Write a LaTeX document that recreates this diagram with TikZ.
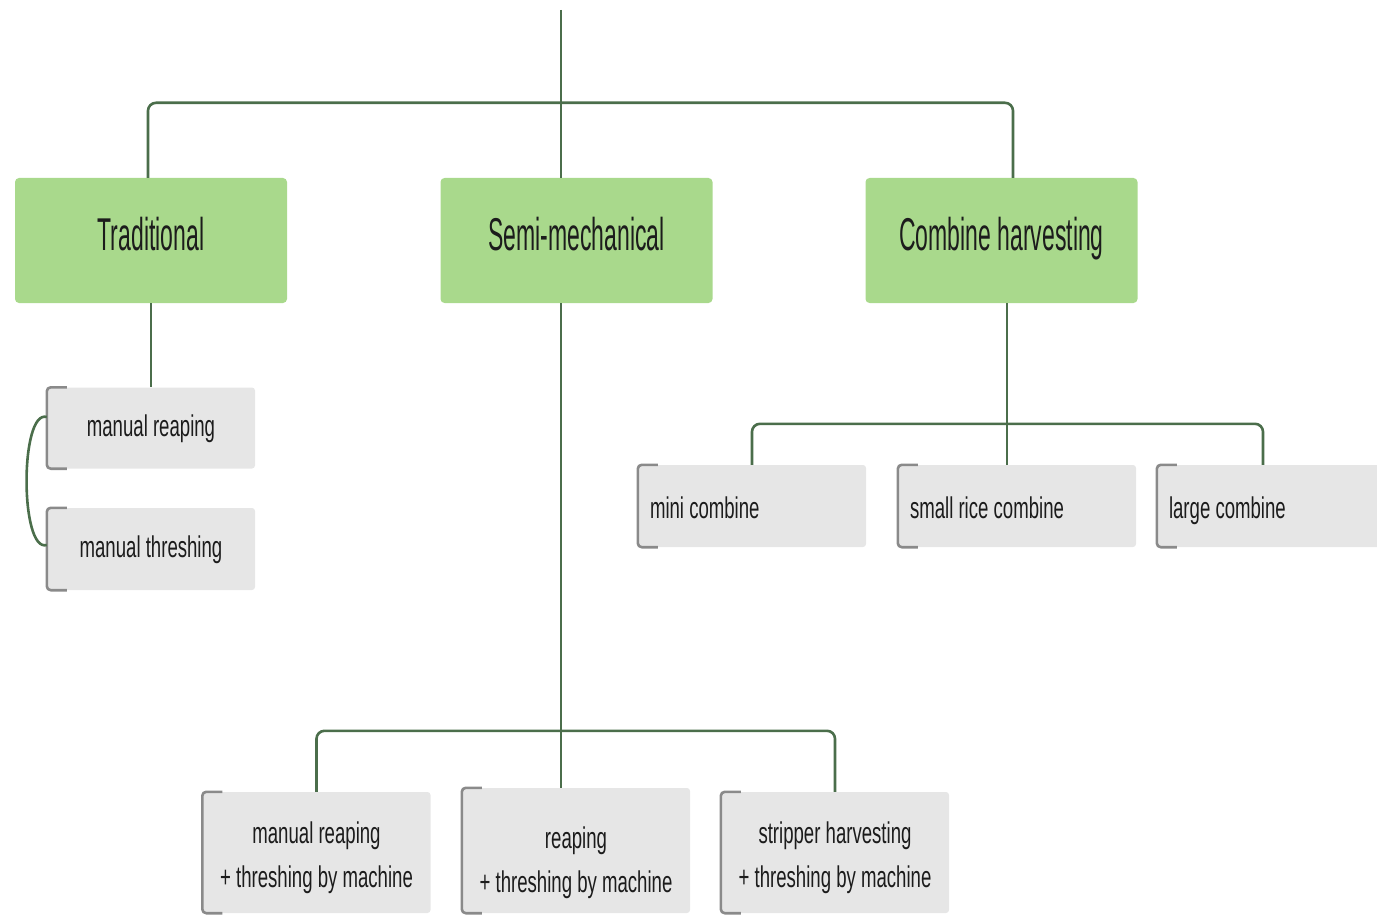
\documentclass[tikz,border=0pt]{standalone}
\usepackage{fontspec}
\newfontfamily\headfont[FakeStretch=0.5]{Liberation Sans}
\newfontfamily\leaffont[FakeStretch=0.62]{Liberation Sans}
\definecolor{boxgreen}{HTML}{A9D98C}
\definecolor{boxgray}{HTML}{E6E6E6}
\definecolor{linkgreen}{HTML}{4B6E4B}
\definecolor{brackgray}{HTML}{8A8A8A}
\definecolor{txt}{HTML}{1C1C1C}

\begin{document}
\begin{tikzpicture}[x=1pt,y=-1pt,
    head/.style={fill=boxgreen, rounded corners=4pt, minimum width=272pt,
        minimum height=125pt, text height=33.5pt, text depth=14pt,
        text=txt, font=\headfont\fontsize{46}{50}\selectfont},
    leaf/.style={fill=boxgray, rounded corners=3pt, minimum width=208pt,
        minimum height=81pt, text height=22pt, text depth=6pt,
        text=txt, font=\leaffont\fontsize{30}{44}\selectfont},
    leftleaf/.style={leaf, minimum width=228pt, text width=204pt, align=flush left,
        inner xsep=12pt, minimum height=82pt, text height=24pt, text depth=0pt},
    twoline/.style={leaf, minimum width=228pt, minimum height=121pt, align=center,
        text height=76pt, text depth=6.5pt},
    link/.style={draw=linkgreen, line width=2.6pt},
    brack/.style={draw=brackgray, line width=2.6pt, rounded corners=4pt}]

\useasboundingbox (0,0) rectangle (1377,915);

\coordinate (top) at (561,10);

% top level
\node[head] (trad) at (151,240.5) {Traditional};
\node[head] (semi) at (576.5,240.5) {Semi-mechanical};
\node[head] (comb) at (1001.5,240.5) {Combine harvesting};

% traditional
\node[leaf] (reap) at (151,428) {manual reaping};
\node[leaf, minimum height=82pt] (thresh) at (151,549) {manual threshing};

% combine harvesting
\node[leftleaf] (mini) at (752,506) {mini combine};
\node[leftleaf, minimum width=238pt, text width=214pt] (small) at (1017,506) {small rice combine};
\node[leftleaf] (large) at (1271,506) {large combine};

% semi-mechanical
\node[twoline] (mrtm) at (316.5,852.5) {manual reaping\\+ threshing by machine};
\node[twoline, minimum height=125pt, text height=90pt] (rtm) at (576,850.5) {reaping\\+ threshing by machine};
\node[twoline] (shtm) at (835,852.5) {stripper harvesting\\+ threshing by machine};

% brackets
\foreach \n in {reap,thresh,mini,small,large,mrtm,rtm,shtm}
{
    \draw[brack] ([xshift=20pt]\n.north west) -- (\n.north west)
        -- (\n.south west) -- ([xshift=20pt]\n.south west);
}

% connectors
\draw[link] (top) -- (top |- semi.north);
\draw[link] (top |- semi.south) -- (top |- rtm.north);
\draw[link, rounded corners=8pt] ([xshift=-3pt]trad.north) |- ([yshift=75pt]semi.north)
    -| ([xshift=11.5pt]comb.north);

\draw[link] (trad.south) -- (reap.north);
\draw[link] ([yshift=11pt]reap.west) .. controls +(-27,-8) and +(-27,8) .. ([yshift=4pt]thresh.west);

\draw[link] ([xshift=5.5pt]comb.south) -- ([xshift=5.5pt]comb.south |- small.north);
\draw[link, rounded corners=8pt] (mini.north) |- ([yshift=41pt]small.north)
    -| ([xshift=-8pt]large.north);

\draw[link, rounded corners=8pt] (mrtm.north) |- ([yshift=57pt]top |- rtm.north)
    -| (shtm.north);

\end{tikzpicture}
\end{document}
